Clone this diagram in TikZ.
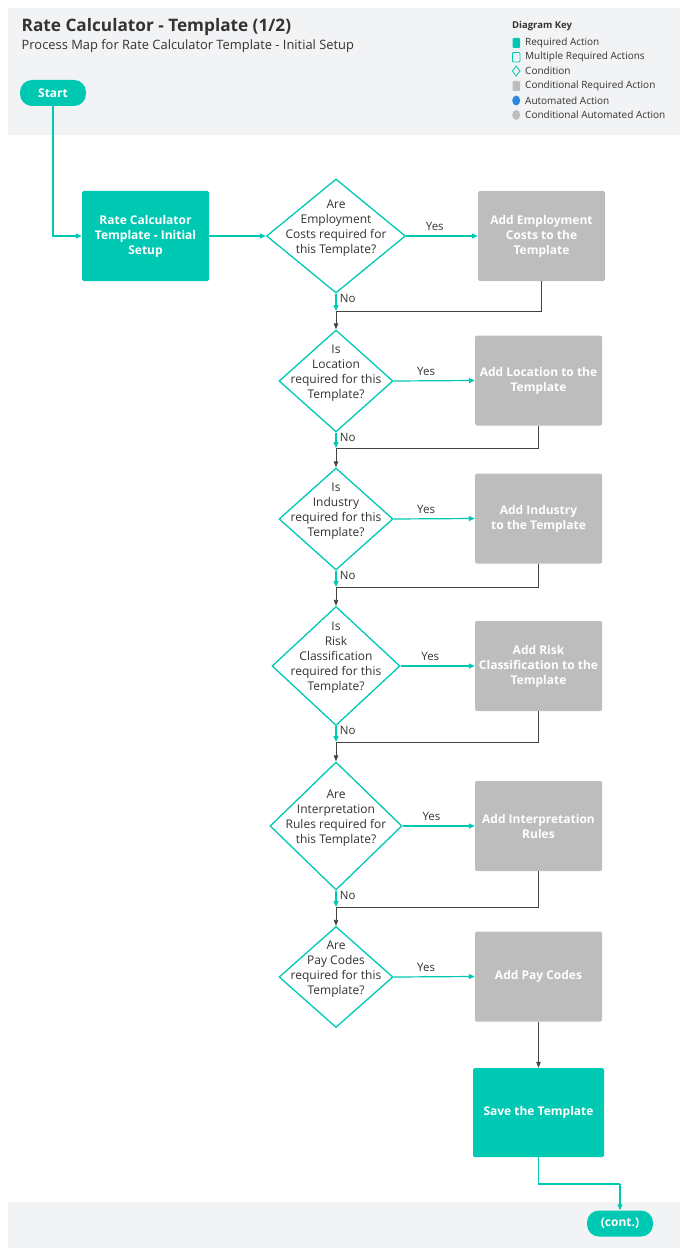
\documentclass[tikz,border=0pt]{standalone}
\usepackage{fontspec}
\setmainfont{Open Sans}
\usetikzlibrary{shapes.geometric,arrows.meta}
\definecolor{tealc}{HTML}{00C9B3}
\definecolor{grayc}{HTML}{BDBDBE}
\definecolor{bandc}{HTML}{F2F3F5}
\definecolor{inkc}{HTML}{333333}
\definecolor{linec}{HTML}{444444}
\definecolor{bluec}{HTML}{2A8BDE}
\tikzset{
  actbox/.style={rectangle, rounded corners=1.5pt, fill=tealc, text=white,
    minimum width=127pt, minimum height=90pt, align=center,
    font=\fontsize{12}{15}\selectfont\bfseries, inner sep=2pt},
  condact/.style={actbox, fill=grayc},
  cond/.style={diamond, draw=tealc, line width=1.3pt, fill=white, inner sep=0pt},
  condtext/.style={align=center, text=inkc, yshift=8pt, font=\fontsize{12}{15}\selectfont},
  pill/.style={rectangle, rounded corners=12pt, fill=tealc, text=white,
    minimum width=66pt, minimum height=26pt, font=\fontsize{12}{13}\selectfont\bfseries},
  tealarrow/.style={draw=tealc, line width=1.2pt, -{Triangle[length=6pt,width=5pt]}},
  tealline/.style={draw=tealc, line width=1.2pt},
  darkarrow/.style={draw=linec, line width=0.8pt, -{Triangle[length=6pt,width=4.5pt]}},
  darkline/.style={draw=linec, line width=0.8pt},
  lbl/.style={text=inkc, font=\fontsize{11.5}{12}\selectfont},
  keytext/.style={anchor=west, text=inkc, inner sep=0pt, font=\fontsize{10}{10}\selectfont},
}
\begin{document}
\begin{tikzpicture}[x=1pt,y=-1pt]
\useasboundingbox (0,0) rectangle (688,1257);
% header and footer bands
\fill[bandc] (8,8) rectangle (680,135);
\fill[bandc] (8,1202) rectangle (680,1248);
\node[anchor=west, inner sep=0pt, text=inkc, font=\fontsize{17.2}{18}\selectfont\bfseries] (title) at (21.5,27) {Rate Calculator - Template (1/2)};
\node[anchor=west, inner sep=0pt, text=inkc, font=\fontsize{12.9}{13}\selectfont] (subtitle) at (21.5,46) {Process Map for Rate Calculator Template - Initial Setup};
% legend
\node[anchor=west, inner sep=0pt, text=inkc, font=\fontsize{9.5}{10}\selectfont\bfseries] (keyhead) at (512,26) {Diagram Key};
\fill[tealc, rounded corners=1pt] (512.5,38) rectangle (520,48);
\node[keytext] (k1) at (525,43) {Required Action};
\draw[tealc, line width=0.8pt, rounded corners=1pt] (512.5,52.5) rectangle (520,62);
\node[keytext] (k2) at (525,57) {Multiple Required Actions};
\draw[tealc, line width=0.8pt] (516.2,66) -- (520,71) -- (516.2,76) -- (512.4,71) -- cycle;
\node[keytext] (k3) at (525,71) {Condition};
\fill[grayc, rounded corners=1pt] (512.5,81) rectangle (520,91);
\node[keytext] (k4) at (525,86) {Conditional Required Action};
\fill[bluec] (516.2,100.5) ellipse (4pt and 5pt);
\node[keytext] (k5) at (525,100.5) {Automated Action};
\fill[grayc] (516.2,115) ellipse (4pt and 5pt);
\node[keytext] (k6) at (525,115) {Conditional Automated Action};

% start and setup
\node[pill] (start) at (53,93) {Start};
\node[actbox] (setup) at (145.5,236) {Rate Calculator\\Template - Initial\\Setup};

% conditions
\node[cond, minimum width=139pt, minimum height=114pt,
  label={[condtext]center:Are\\Employment\\Costs required for\\this Template?}] (d1) at (336,236) {};
\node[cond, minimum width=114pt, minimum height=102pt,
  label={[condtext]center:Is\\Location\\required for this\\Template?}] (d2) at (336,381) {};
\node[cond, minimum width=114pt, minimum height=102pt,
  label={[condtext]center:Is\\Industry\\required for this\\Template?}] (d3) at (336,519) {};
\node[cond, minimum width=128pt, minimum height=119pt,
  label={[condtext]center:Is\\Risk\\Classification\\required for this\\Template?}] (d4) at (336,666) {};
\node[cond, minimum width=132pt, minimum height=128pt,
  label={[condtext]center:Are\\Interpretation\\Rules required for\\this Template?}] (d5) at (336,826) {};
\node[cond, minimum width=114pt, minimum height=101pt,
  label={[condtext]center:Are\\Pay Codes\\required for this\\Template?}] (d6) at (336,977) {};

% conditional actions
\node[condact] (g1) at (541.5,236) {Add Employment\\Costs to the\\Template};
\node[condact] (g2) at (538.5,380.5) {Add Location to the\\Template};
\node[condact] (g3) at (538.5,518.5) {Add Industry\\to the Template};
\node[condact] (g4) at (538.5,666) {Add Risk\\Classification to the\\Template};
\node[condact] (g5) at (538.5,826) {Add Interpretation\\Rules};
\node[condact] (g6) at (538.5,976.5) {Add Pay Codes};

% end
\node[actbox, minimum width=131pt, minimum height=89pt] (save) at (538.5,1112.5) {Save the Template};
\node[pill] (cont) at (620,1223.5) {(cont.)};

% merge points below each condition
\coordinate (j1) at (336,311);
\coordinate (j2) at (336,448);
\coordinate (j3) at (336,587);
\coordinate (j4) at (336,742);
\coordinate (j5) at (336,907);
\coordinate (bend) at (620,1184);

% connectors
\draw[tealarrow] (start.south) |- (setup.west);
\draw[tealarrow] (setup.east) -- (d1.west);

\draw[tealarrow] (d1.east) -- node[lbl, above=1pt, pos=0.4] {Yes} (g1.west);
\draw[tealarrow] (d2.east) -- node[lbl, above=1pt, pos=0.4] {Yes} (g2.west);
\draw[tealarrow] (d3.east) -- node[lbl, above=1pt, pos=0.4] {Yes} (g3.west);
\draw[tealarrow] (d4.east) -- node[lbl, above=1pt, pos=0.4] {Yes} (g4.west);
\draw[tealarrow] (d5.east) -- node[lbl, above=1pt, pos=0.4] {Yes} (g5.west);
\draw[tealarrow] (d6.east) -- node[lbl, above=1pt, pos=0.4] {Yes} (g6.west);

\draw[tealarrow] (d1.south) -- node[lbl, right=0pt, pos=0.3] {No} (j1);
\draw[tealarrow] (d2.south) -- node[lbl, right=0pt, pos=0.3] {No} (j2);
\draw[tealarrow] (d3.south) -- node[lbl, right=0pt, pos=0.3] {No} (j3);
\draw[tealarrow] (d4.south) -- node[lbl, right=0pt, pos=0.3] {No} (j4);
\draw[tealarrow] (d5.south) -- node[lbl, right=0pt, pos=0.3] {No} (j5);

\draw[darkline] (g1.south) |- (j1);
\draw[darkline] (g2.south) |- (j2);
\draw[darkline] (g3.south) |- (j3);
\draw[darkline] (g4.south) |- (j4);
\draw[darkline] (g5.south) |- (j5);

\draw[darkarrow] (j1) -- (d2.north);
\draw[darkarrow] (j2) -- (d3.north);
\draw[darkarrow] (j3) -- (d4.north);
\draw[darkarrow] (j4) -- (d5.north);
\draw[darkarrow] (j5) -- (d6.north);

\draw[darkarrow] (g6.south) -- (save.north);
\draw[tealline] (save.south) |- (bend);
\draw[tealarrow] (bend) -- (cont.north);
\end{tikzpicture}
\end{document}
